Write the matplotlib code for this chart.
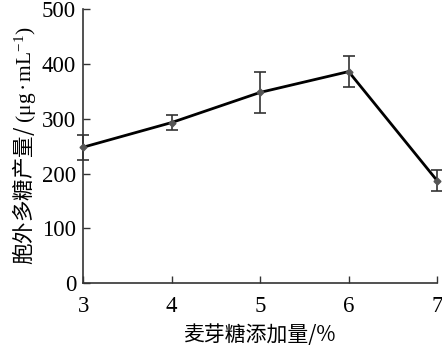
import matplotlib
matplotlib.use('Agg')
import matplotlib.pyplot as plt

# maltose addition (%) vs exopolysaccharide yield
maltose = [3, 4, 5, 6, 7]
yield_eps = [248, 293, 348, 386, 187]
yield_err = [23, 14, 38, 28, 19]
y_ticks = [0, 100, 200, 300, 400, 500]

plt.rcParams['font.family'] = ['Liberation Serif', 'Noto Sans CJK SC']
plt.rcParams['mathtext.fontset'] = 'custom'
plt.rcParams['mathtext.rm'] = 'Liberation Serif'
plt.rcParams['mathtext.it'] = 'Liberation Serif'

fig = plt.figure(figsize=(4.42, 3.5), dpi=100)
ax = fig.add_axes([0.188, 0.191, 0.801, 0.783])

ax.errorbar(maltose, yield_eps, yerr=yield_err, color='black', linewidth=2,
            ecolor='#333333', elinewidth=1.2, capsize=4, capthick=1.2,
            marker='D', markersize=3.5, markerfacecolor='#555555',
            markeredgecolor='#555555', clip_on=False, zorder=3)

ax.set_xlim(3, 7)
ax.set_ylim(0, 500)
ax.set_xticks(maltose)
ax.set_yticks(y_ticks)
ax.spines['top'].set_visible(False)
ax.spines['right'].set_visible(False)
for s in ['left', 'bottom']:
    ax.spines[s].set_color('#333333')
    ax.spines[s].set_linewidth(1.2)
ax.tick_params(direction='in', length=5, width=1, colors='#333333',
               labelsize=16.5, labelcolor='black')
ax.tick_params(axis='x', pad=9)
ax.tick_params(axis='y', pad=5)

ax.set_xlabel('麦芽糖添加量/%', fontsize=15, family=['Noto Sans CJK SC', 'Liberation Serif'],
              labelpad=5)
ax.set_ylabel('胞外多糖产量/ $(\\mathrm{μg}\\bullet\\mathrm{mL}^{-1})$', fontsize=15.5,
              family=['Noto Sans CJK SC', 'Liberation Serif'], labelpad=3)

fig.savefig('out.png', dpi=100)
